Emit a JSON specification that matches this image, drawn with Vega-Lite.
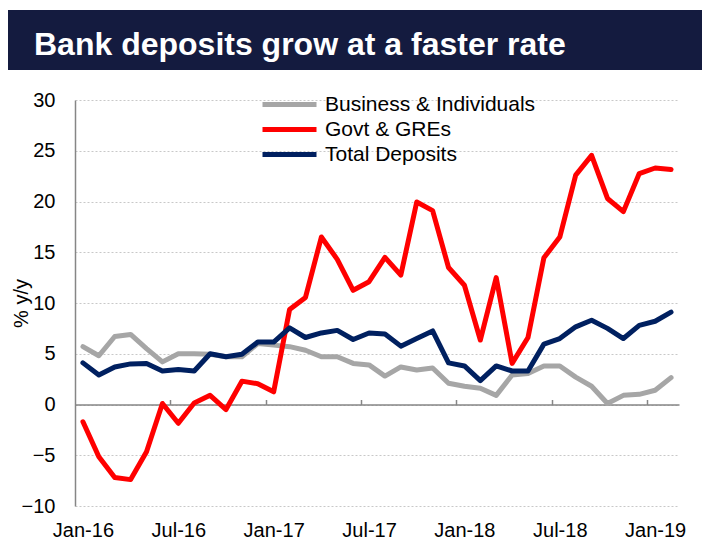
{
  "$schema": "https://vega.github.io/schema/vega-lite/v6.json",
  "padding": {"left": 8, "top": 10, "right": 0, "bottom": 0},
  "background": "white",
  "spacing": 20,
  "config": {"view": {"stroke": null}, "font": "Liberation Sans"},
  "resolve": {"legend": {"color": "independent"}},
  "vconcat": [
    {
      "width": 694,
      "height": 60,
      "data": {"values": [{}]},
      "mark": {"type": "rect", "color": "#141b3f"},
      "title": {
        "text": "Bank deposits grow at a faster rate",
        "anchor": "start",
        "frame": "group",
        "orient": "top",
        "offset": -52,
        "dx": 26,
        "fontSize": 32,
        "fontWeight": "bold",
        "font": "Liberation Sans",
        "color": "white"
      }
    },
    {
      "width": 671,
      "height": 406,
      "data": {
        "values": [
          {"month": "Jan-16", "Business & Individuals": 5.7, "Govt & GREs": -1.7, "Total Deposits": 4.1},
          {"month": "Feb-16", "Business & Individuals": 4.8, "Govt & GREs": -5.15, "Total Deposits": 2.9},
          {"month": "Mar-16", "Business & Individuals": 6.7, "Govt & GREs": -7.2, "Total Deposits": 3.7},
          {"month": "Apr-16", "Business & Individuals": 6.9, "Govt & GREs": -7.4, "Total Deposits": 4.0},
          {"month": "May-16", "Business & Individuals": 5.5, "Govt & GREs": -4.65, "Total Deposits": 4.05},
          {"month": "Jun-16", "Business & Individuals": 4.2, "Govt & GREs": 0.1, "Total Deposits": 3.3},
          {"month": "Jul-16", "Business & Individuals": 5.0, "Govt & GREs": -1.85, "Total Deposits": 3.45},
          {"month": "Aug-16", "Business & Individuals": 5.0, "Govt & GREs": 0.15, "Total Deposits": 3.3},
          {"month": "Sep-16", "Business & Individuals": 4.95, "Govt & GREs": 0.9, "Total Deposits": 5.0},
          {"month": "Oct-16", "Business & Individuals": 4.7, "Govt & GREs": -0.5, "Total Deposits": 4.7},
          {"month": "Nov-16", "Business & Individuals": 4.7, "Govt & GREs": 2.3, "Total Deposits": 4.95},
          {"month": "Dec-16", "Business & Individuals": 6.0, "Govt & GREs": 2.05, "Total Deposits": 6.15},
          {"month": "Jan-17", "Business & Individuals": 5.85, "Govt & GREs": 1.25, "Total Deposits": 6.15},
          {"month": "Feb-17", "Business & Individuals": 5.7, "Govt & GREs": 9.35, "Total Deposits": 7.55},
          {"month": "Mar-17", "Business & Individuals": 5.35, "Govt & GREs": 10.55, "Total Deposits": 6.6},
          {"month": "Apr-17", "Business & Individuals": 4.7, "Govt & GREs": 16.5, "Total Deposits": 7.05},
          {"month": "May-17", "Business & Individuals": 4.7, "Govt & GREs": 14.3, "Total Deposits": 7.3},
          {"month": "Jun-17", "Business & Individuals": 4.05, "Govt & GREs": 11.25, "Total Deposits": 6.4},
          {"month": "Jul-17", "Business & Individuals": 3.9, "Govt & GREs": 12.1, "Total Deposits": 7.05},
          {"month": "Aug-17", "Business & Individuals": 2.8, "Govt & GREs": 14.5, "Total Deposits": 6.95},
          {"month": "Sep-17", "Business & Individuals": 3.7, "Govt & GREs": 12.75, "Total Deposits": 5.75},
          {"month": "Oct-17", "Business & Individuals": 3.4, "Govt & GREs": 19.95, "Total Deposits": 6.5},
          {"month": "Nov-17", "Business & Individuals": 3.6, "Govt & GREs": 19.1, "Total Deposits": 7.25},
          {"month": "Dec-17", "Business & Individuals": 2.1, "Govt & GREs": 13.5, "Total Deposits": 4.1},
          {"month": "Jan-18", "Business & Individuals": 1.8, "Govt & GREs": 11.75, "Total Deposits": 3.8},
          {"month": "Feb-18", "Business & Individuals": 1.6, "Govt & GREs": 6.35, "Total Deposits": 2.35},
          {"month": "Mar-18", "Business & Individuals": 0.9, "Govt & GREs": 12.5, "Total Deposits": 3.8},
          {"month": "Apr-18", "Business & Individuals": 2.9, "Govt & GREs": 4.05, "Total Deposits": 3.3},
          {"month": "May-18", "Business & Individuals": 3.05, "Govt & GREs": 6.6, "Total Deposits": 3.3},
          {"month": "Jun-18", "Business & Individuals": 3.8, "Govt & GREs": 14.45, "Total Deposits": 5.95},
          {"month": "Jul-18", "Business & Individuals": 3.8, "Govt & GREs": 16.5, "Total Deposits": 6.5},
          {"month": "Aug-18", "Business & Individuals": 2.7, "Govt & GREs": 22.6, "Total Deposits": 7.65},
          {"month": "Sep-18", "Business & Individuals": 1.8, "Govt & GREs": 24.55, "Total Deposits": 8.3},
          {"month": "Oct-18", "Business & Individuals": 0.1, "Govt & GREs": 20.3, "Total Deposits": 7.5},
          {"month": "Nov-18", "Business & Individuals": 0.9, "Govt & GREs": 19.0, "Total Deposits": 6.5},
          {"month": "Dec-18", "Business & Individuals": 1.0, "Govt & GREs": 22.75, "Total Deposits": 7.8},
          {"month": "Jan-19", "Business & Individuals": 1.4, "Govt & GREs": 23.3, "Total Deposits": 8.2},
          {"month": "Feb-19", "Business & Individuals": 2.65, "Govt & GREs": 23.15, "Total Deposits": 9.1}
        ]
      },
      "transform": [
        {"fold": ["Business & Individuals", "Govt & GREs", "Total Deposits"], "as": ["series", "value"]}
      ],
      "layer": [
        {
          "mark": {"type": "line", "strokeWidth": 5, "strokeCap": "round", "strokeJoin": "round"},
          "encoding": {
            "x": {
              "field": "month",
              "type": "ordinal",
              "sort": null,
              "scale": {"range": [67, 671]},
              "axis": {
                "orient": "bottom",
                "values": ["Jan-16", "Jul-16", "Jan-17", "Jul-17", "Jan-18", "Jul-18", "Jan-19"],
                "labelAngle": 0,
                "labelFontSize": 20,
                "labelFont": "Liberation Sans",
                "labelColor": "black",
                "labelPadding": 14,
                "ticks": false,
                "domain": false,
                "grid": false,
                "title": null
              }
            },
            "y": {
              "field": "value",
              "type": "quantitative",
              "scale": {"domain": [-10, 30], "nice": false},
              "axis": {
                "offset": -67,
                "title": "% y/y",
                "titleFontSize": 20,
                "titleFont": "Liberation Sans",
                "titleFontWeight": "normal",
                "titleColor": "black",
                "titlePadding": -10,
                "values": [-10, -5, 0, 5, 10, 15, 20, 25, 30],
                "labelFontSize": 20,
                "labelFont": "Liberation Sans",
                "labelColor": "black",
                "labelPadding": 20,
                "ticks": false,
                "domainColor": "#868686",
                "domainWidth": 1.5,
                "grid": true,
                "gridColor": "#c8c8c8",
                "gridDash": [2, 2],
                "gridWidth": 1
              }
            },
            "color": {
              "field": "series",
              "type": "nominal",
              "scale": {
                "domain": ["Business & Individuals", "Govt & GREs", "Total Deposits"],
                "range": ["#a6a6a6", "#ff0000", "#002060"]
              },
              "legend": {
                "orient": "none",
                "legendX": 269,
                "legendY": -8,
                "title": null,
                "symbolType": "M-2.7,0H2.7",
                "symbolSize": 400,
                "symbolStrokeWidth": 5,
                "labelFontSize": 21,
                "labelFont": "Liberation Sans",
                "labelColor": "black",
                "labelLimit": 0,
                "labelOffset": 23,
                "padding": 0,
                "rowPadding": 2
              }
            }
          }
        },
        {
          "mark": {"type": "point", "opacity": 0},
          "encoding": {
            "x": {
              "field": "month",
              "type": "ordinal",
              "sort": null,
              "axis": {
                "orient": "top",
                "offset": -304.5,
                "values": ["Jul-16", "Jan-17", "Jul-17", "Jan-18", "Jul-18", "Jan-19"],
                "labels": false,
                "ticks": true,
                "tickSize": 5,
                "tickColor": "#868686",
                "tickWidth": 1.5,
                "tickOffset": -7.95,
                "domainColor": "#868686",
                "domainWidth": 1.5,
                "grid": false,
                "title": null
              }
            },
            "y": {"datum": 0, "type": "quantitative", "axis": null}
          }
        }
      ],
      "resolve": {"axis": {"x": "independent", "y": "independent"}}
    }
  ]
}
